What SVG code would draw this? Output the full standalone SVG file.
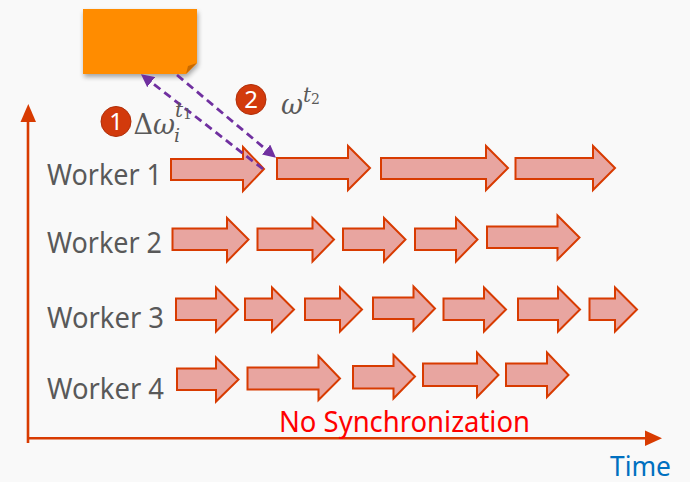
<svg xmlns="http://www.w3.org/2000/svg" width="690" height="482" viewBox="0 0 690 482">
  <defs>
    <style>
      .task { fill: #e8a5a0; stroke: #d83b01; stroke-width: 2; stroke-linejoin: miter; }
      .axis { stroke: #d83b01; stroke-width: 2.6; fill: none; }
      .lbl { font-family: "Noto Sans", "Open Sans", sans-serif; font-size: 29px; fill: #595959; }
      .msg { stroke: #7030a0; stroke-width: 2.8; stroke-dasharray: 8 5; fill: none; }
      .math { font-family: "DejaVu Serif", "Liberation Serif", serif; fill: #595959; }
      .badge circle { fill: #d23a0c; stroke: #b02e08; stroke-width: 1; }
      .badge text { font-family: "Noto Sans", "Open Sans", sans-serif; font-size: 24px; fill: #ffffff; text-anchor: middle; }
    </style>
    <marker id="msgHead" viewBox="0 0 10 10" refX="9" refY="5" markerWidth="4.6" markerHeight="4.6" orient="auto" markerUnits="strokeWidth">
      <path d="M0,0 L10,5 L0,10 Z" fill="#7030a0"/>
    </marker>
    <filter id="shadow" x="-20%" y="-20%" width="150%" height="160%">
      <feGaussianBlur in="SourceAlpha" stdDeviation="2.5"/>
      <feOffset dx="1" dy="3" result="b"/>
      <feComponentTransfer><feFuncA type="linear" slope="0.35"/></feComponentTransfer>
      <feMerge><feMergeNode/><feMergeNode in="SourceGraphic"/></feMerge>
    </filter>
  </defs>

  <rect width="690" height="482" fill="#f9f9f9"/>

  <!-- parameter server -->
  <g id="server">
    <path d="M83,9 H197 V63 L186,74 H83 Z" fill="#ff8c00" filter="url(#shadow)"/>
    <path d="M197,63 L188,66 L186,74 Z" fill="#c96a00"/>
  </g>

  <!-- axes -->
  <g id="axes">
    <path class="axis" d="M28,443 V118"/>
    <path d="M20.5,122 L28.3,104 L36,122 Z" fill="#d83b01"/>
    <path class="axis" d="M27,438.3 H648"/>
    <path d="M645,430.5 L662,438.3 L645,446 Z" fill="#d83b01"/>
  </g>

  <!-- worker 1 -->
  <g id="worker1">
    <text class="lbl" x="47" y="184.5" textLength="115" lengthAdjust="spacingAndGlyphs">Worker 1</text>
    <polygon class="task" points="171,159 243,159 243,147 264,169 243,191 243,180 171,180"/>
    <polygon class="task" points="277,158 348,158 348,146 370,168 348,190 348,179 277,179"/>
    <polygon class="task" points="381,158 486,158 486,146 508,168 486,190 486,179 381,179"/>
    <polygon class="task" points="515.5,158 593,158 593,146 615,168 593,190 593,179 515.5,179"/>
  </g>

  <!-- worker 2 -->
  <g id="worker2">
    <text class="lbl" x="47" y="253" textLength="115" lengthAdjust="spacingAndGlyphs">Worker 2</text>
    <polygon class="task" points="172.5,228.5 227,228.5 227,218 248.5,239.5 227,261.5 227,250 172.5,250"/>
    <polygon class="task" points="257.5,228.5 312.5,228.5 312.5,218 334,239.5 312.5,261.5 312.5,250 257.5,250"/>
    <polygon class="task" points="343,228.5 384,228.5 384,218 405.5,239.5 384,261.5 384,250 343,250"/>
    <polygon class="task" points="415,228.5 456,228.5 456,218 477.5,239.5 456,261.5 456,250 415,250"/>
    <polygon class="task" points="487,226.5 557.5,226.5 557.5,215.5 579.5,237.5 557.5,259.5 557.5,248 487,248"/>
  </g>

  <!-- worker 3 -->
  <g id="worker3">
    <text class="lbl" x="47" y="328" textLength="117" lengthAdjust="spacingAndGlyphs">Worker 3</text>
    <polygon class="task" points="176,298.5 216,298.5 216,287.5 238,309.5 216,331.5 216,320 176,320"/>
    <polygon class="task" points="245,298.5 272,298.5 272,287.5 294,309.5 272,331.5 272,320 245,320"/>
    <polygon class="task" points="305,298.5 340,298.5 340,287.5 362,309.5 340,331.5 340,320 305,320"/>
    <polygon class="task" points="373,297.5 413.5,297.5 413.5,286.5 435,308.5 413.5,330.5 413.5,319 373,319"/>
    <polygon class="task" points="443.5,298.5 484,298.5 484,287.5 506,309.5 484,331.5 484,320 443.5,320"/>
    <polygon class="task" points="518,298.5 558,298.5 558,287.5 580,309.5 558,331.5 558,320 518,320"/>
    <polygon class="task" points="589.5,298.5 615,298.5 615,287.5 637,309.5 615,331.5 615,320 589.5,320"/>
  </g>

  <!-- worker 4 -->
  <g id="worker4">
    <text class="lbl" x="47" y="398.5" textLength="117" lengthAdjust="spacingAndGlyphs">Worker 4</text>
    <polygon class="task" points="177,368.5 216,368.5 216,357.5 238.5,379.5 216,401.5 216,390 177,390"/>
    <polygon class="task" points="247.5,367.5 318.5,367.5 318.5,356 340,378.5 318.5,400 318.5,389.5 247.5,389.5"/>
    <polygon class="task" points="353,366 393.5,366 393.5,355 415,376.5 393.5,398.5 393.5,388.5 353,388.5"/>
    <polygon class="task" points="423,363.5 477,363.5 477,352.5 498.5,375 477,397 477,386 423,386"/>
    <polygon class="task" points="506,363.5 547,363.5 547,352.5 568.5,375 547,397 547,386 506,386"/>
  </g>

  <!-- push / pull messages -->
  <g id="connectors">
    <line class="msg" x1="263" y1="169" x2="142" y2="75" marker-end="url(#msgHead)"/>
    <line class="msg" x1="177" y1="75" x2="275" y2="157" marker-end="url(#msgHead)"/>
  </g>

  <!-- step 1: push gradient -->
  <g id="step1">
    <g class="badge">
      <circle cx="116" cy="121.5" r="15"/>
      <text x="116" y="130">1</text>
    </g>
    <text class="math" x="133.5" y="133.5" font-size="27">Δ<tspan font-style="italic">ω</tspan></text>
    <text class="math" x="174" y="141.5" font-size="19" font-style="italic">i</text>
    <text class="math" x="175" y="117" font-size="20" font-style="italic">t<tspan font-size="14" font-style="normal" dy="2">1</tspan></text>
  </g>

  <!-- step 2: pull weights -->
  <g id="step2">
    <g class="badge">
      <circle cx="251" cy="99.5" r="15"/>
      <text x="251" y="108">2</text>
    </g>
    <text class="math" x="281" y="113.5" font-size="27" font-style="italic">ω</text>
    <text class="math" x="303" y="102" font-size="20" font-style="italic">t<tspan font-size="14" font-style="normal" dy="2">2</tspan></text>
  </g>

  <text x="279" y="431.5" textLength="251" lengthAdjust="spacingAndGlyphs" font-family="Noto Sans, Open Sans, sans-serif" font-size="29" fill="#ff0000">No Synchronization</text>
  <text x="610" y="476" textLength="61" lengthAdjust="spacingAndGlyphs" font-family="Noto Sans, Open Sans, sans-serif" font-size="27" fill="#0070c0">Time</text>
</svg>
